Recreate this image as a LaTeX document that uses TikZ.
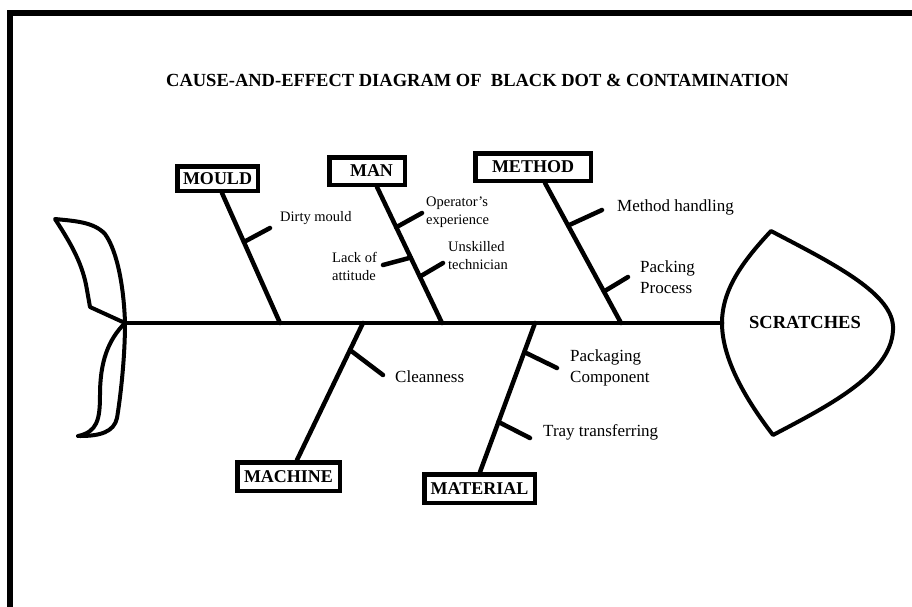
\documentclass[tikz,border=0pt]{standalone}
\usepackage{fontspec}
\setmainfont{Liberation Serif}
\usetikzlibrary{calc}
\begin{document}
\begin{tikzpicture}[x=1pt,y=-1pt,
  bone/.style={line width=4.5pt, line cap=round},
  outline/.style={line width=4pt, line join=round, line cap=round},
  catbox/.style={draw, line width=4.5pt, fill=white, inner sep=0pt,
    font=\fontsize{18}{20}\selectfont\bfseries},
  lbl/.style={anchor=west, align=left, inner sep=0pt,
    font=\fontsize{14.5}{18}\selectfont},
  lblbig/.style={anchor=west, align=left, inner sep=0pt,
    font=\fontsize{17}{21}\selectfont}
]
\useasboundingbox (0,0) rectangle (912,606);

% frame (top and left edges)
\draw[line width=6pt, line join=miter] (10,609) -- (10,13) -- (915,13);

% title
\node[font=\fontsize{18.5}{22}\selectfont\bfseries] (title) at (477.5,80)
  {CAUSE-AND-EFFECT DIAGRAM OF\ \ BLACK DOT \& CONTAMINATION};

% spine end points
\coordinate (tail) at (125,323);
\coordinate (head) at (722,323);

% fish head
\draw[outline] (771,231) .. controls (742,262) and (722,290) .. (head)
  .. controls (722,362) and (750,405) .. (773,435)
  .. controls (830,405) and (895,372) .. (893,326)
  .. controls (891,292) and (830,262) .. (771,231) -- cycle;
\node[font=\fontsize{18.5}{22}\selectfont\bfseries] (effect) at (805,322) {SCRATCHES};

% fish tail
\draw[outline] (tail) -- (90,307) -- (87,290)
  .. controls (83,265) and (72,245) .. (55,219)
  .. controls (75,221) and (94,222) .. (105,234)
  .. controls (118,252) and (124,290) .. (tail);
\draw[outline] (tail) .. controls (108,340) and (100,362) .. (100,395)
  .. controls (100,420) and (97,432) .. (78,436);
\draw[outline] (tail) .. controls (125,360) and (120,400) .. (117,418)
  .. controls (114,432) and (100,436) .. (80,436);

% spine
\draw[bone] (tail) -- (head);

% category boxes
\node[catbox, minimum width=80.5pt, minimum height=24.5pt] (mould) at (217.5,178.5) {MOULD};
\node[catbox, minimum width=75.5pt, minimum height=27.5pt] (man) at (367,171) {\ \ MAN};
\node[catbox, minimum width=115.5pt, minimum height=27.5pt] (method) at (533,167) {METHOD};
\node[catbox, minimum width=102.5pt, minimum height=28.5pt] (machine) at (288.5,476.5) {MACHINE};
\node[catbox, minimum width=110.5pt, minimum height=28.5pt] (material) at (479.5,488.5) {MATERIAL};

% bone roots on the spine
\coordinate (s-mould) at (280,323);
\coordinate (s-man) at (442,323);
\coordinate (s-method) at (621,323);
\coordinate (s-machine) at (363,323);
\coordinate (s-material) at (535,323);

% bone tops at the boxes
\coordinate (b-mould) at ([xshift=4.5pt]mould.south);
\coordinate (b-man) at ([xshift=10pt]man.south);
\coordinate (b-method) at ([xshift=12pt]method.south);
\coordinate (b-machine) at ([xshift=8.5pt]machine.north);
\coordinate (b-material) at ([xshift=0.5pt]material.north);

% main bones
\draw[bone] (s-mould) -- (b-mould);
\draw[bone] (s-man) -- (b-man);
\draw[bone] (s-method) -- (b-method);
\draw[bone] (s-machine) -- (b-machine);
\draw[bone] (s-material) -- (b-material);

% cause ticks: start on a bone, free end as coordinate
\coordinate (k1) at ($(s-mould)!0.623!(b-mould)$);    \coordinate (e1) at (270,228);
\coordinate (k2) at ($(s-man)!0.704!(b-man)$);        \coordinate (e2) at (422,213);
\coordinate (k3) at ($(s-man)!0.481!(b-man)$);        \coordinate (e3) at (383,265);
\coordinate (k4) at ($(s-man)!0.341!(b-man)$);        \coordinate (e4) at (443,263);
\coordinate (k5) at ($(s-method)!0.696!(b-method)$);  \coordinate (e5) at (602,210);
\coordinate (k6) at ($(s-method)!0.225!(b-method)$);  \coordinate (e6) at (628,277);
\coordinate (k7) at ($(s-machine)!0.197!(b-machine)$);\coordinate (e7) at (383,375);
\coordinate (k8) at ($(s-material)!0.195!(b-material)$);\coordinate (e8) at (557,368);
\coordinate (k9) at ($(s-material)!0.664!(b-material)$);\coordinate (e9) at (530,438);

\foreach \i in {1,...,9} { \draw[bone] (k\i) -- (e\i); }

% cause labels
\node[lbl] (c1) at (280,218) {Dirty mould};
\node[lbl] (c2) at (426,212) {Operator's\\experience};
\node[lbl] (c3) at (332,266) {Lack of\\attitude};
\node[lbl] (c4) at (448,256) {Unskilled\\technician};
\node[lblbig] (c5) at (617,207) {Method handling};
\node[lblbig] (c6) at (640,277) {Packing\\Process};
\node[lblbig] (c7) at (395,377) {Cleanness};
\node[lblbig] (c8) at (570,368) {Packaging\\Component};
\node[lblbig] (c9) at (543,432) {Tray transferring};
\end{tikzpicture}
\end{document}
